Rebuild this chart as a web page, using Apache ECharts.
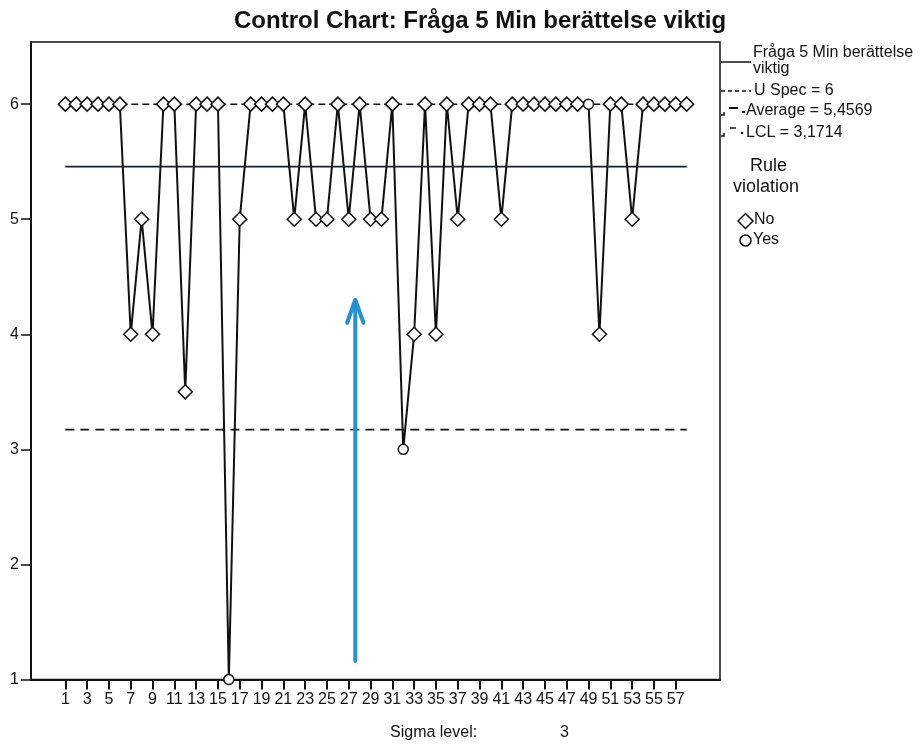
<!DOCTYPE html>
<html>
<head>
<meta charset="utf-8">
<title>Control Chart</title>
<script src="https://cdn.jsdelivr.net/npm/echarts@6/dist/echarts.min.js"></script>
<style>
  html, body { margin: 0; padding: 0; background: #fff; }
  #main { width: 920px; height: 746px; }
</style>
</head>
<body>
<div id="main"></div>
<script>
// sample number (x) and the answer value per sample
var samples = [1, 2, 3, 4, 5, 6, 7, 8, 9, 10, 11, 12, 13, 14, 15, 16, 17, 18, 19, 20,
  21, 22, 23, 24, 25, 26, 27, 28, 29, 30, 31, 32, 33, 34, 35, 36, 37, 38, 39, 40,
  41, 42, 43, 44, 45, 46, 47, 48, 49, 50, 51, 52, 53, 54, 55, 56, 57, 58];
var values = [6, 6, 6, 6, 6, 6, 4, 5, 4, 6, 6, 3.5, 6, 6, 6, 1, 5, 6, 6, 6,
  6, 5, 6, 5, 5, 6, 5, 6, 5, 5, 6, 3, 4, 6, 4, 6, 5, 6, 6, 6,
  5, 6, 6, 6, 6, 6, 6, 6, 6, 4, 6, 6, 5, 6, 6, 6, 6, 6];
// samples flagged as rule violation (drawn as circles)
var violations = [16, 32, 49];

var uSpec = 6;
var average = 5.4569;
var lcl = 3.1714;

var xTicks = [1, 3, 5, 7, 9, 11, 13, 15, 17, 19, 21, 23, 25, 27, 29, 31, 33, 35, 37, 39,
  41, 43, 45, 47, 49, 51, 53, 55, 57];
var yTicks = [1, 2, 3, 4, 5, 6];

// hand drawn blue arrow on the scan (data coords)
var arrowShaft = [[27.6, 1.16], [27.6, 4.28]];
var arrowHead = [[26.85, 4.1], [27.6, 4.3], [28.35, 4.1]];

var FONT = '"Liberation Sans", Arial, sans-serif';
var INK = '#111';

var limitLine = function (v) {
    return [[samples[0], v], [samples[samples.length - 1], v]];
};

var chart = echarts.init(document.getElementById('main'));

var option = {
    backgroundColor: '#fff',
    animation: false,
    textStyle: { fontFamily: FONT, color: INK },
    title: {
        text: 'Control Chart: Fråga 5 Min berättelse viktig',
        left: 229,
        top: 4,
        textStyle: { fontFamily: FONT, fontSize: 24, fontWeight: 'bold', color: INK }
    },
    grid: {
        left: 31,
        right: 200,
        top: 42,
        bottom: 66.5,
        show: true,
        borderColor: INK,
        borderWidth: 1.5,
        backgroundColor: 'transparent'
    },
    xAxis: {
        type: 'value',
        min: -2.15,
        max: 61.06,
        axisLine: { show: true, onZero: false, lineStyle: { color: INK, width: 2 } },
        axisTick: { show: true, length: 10, customValues: xTicks, lineStyle: { color: INK, width: 2 } },
        axisLabel: { customValues: xTicks, margin: 12, fontSize: 16, color: INK, fontFamily: FONT },
        splitLine: { show: false }
    },
    yAxis: {
        type: 'value',
        min: 1,
        max: 6.54,
        axisLine: { show: true, onZero: false, lineStyle: { color: INK, width: 2 } },
        axisTick: { show: true, length: 10, customValues: yTicks, lineStyle: { color: INK, width: 1.5 } },
        axisLabel: { customValues: yTicks, margin: 12, fontSize: 16, color: INK, fontFamily: FONT },
        splitLine: { show: false }
    },
    series: [
        {
            name: 'U Spec = 6',
            type: 'line',
            data: limitLine(uSpec),
            symbol: 'none',
            silent: true,
            z: 1,
            lineStyle: { color: INK, width: 1.5, type: [7, 4] }
        },
        {
            name: 'Average = 5,4569',
            type: 'line',
            data: limitLine(average),
            symbol: 'none',
            silent: true,
            z: 1,
            lineStyle: { color: '#1a1f2a', width: 1.8 }
        },
        {
            name: 'LCL = 3,1714',
            type: 'line',
            data: limitLine(lcl),
            symbol: 'none',
            silent: true,
            z: 1,
            lineStyle: { color: INK, width: 1.8, type: [9, 6] }
        },
        {
            name: 'Fråga 5 Min berättelse viktig',
            type: 'line',
            data: samples.map(function (s, i) { return [s, values[i]]; }),
            symbol: function (val) {
                return violations.indexOf(val[0]) >= 0 ? 'circle' : 'diamond';
            },
            symbolSize: function (val) {
                return violations.indexOf(val[0]) >= 0 ? 10 : 14;
            },
            showAllSymbol: true,
            z: 3,
            lineStyle: { color: INK, width: 2 },
            itemStyle: { color: '#fff', borderColor: INK, borderWidth: 1.5 }
        },
        {
            type: 'line',
            data: arrowShaft,
            symbol: 'none',
            silent: true,
            z: 4,
            lineStyle: { color: '#2590d2', width: 4, cap: 'round' }
        },
        {
            type: 'line',
            data: arrowHead,
            symbol: 'none',
            silent: true,
            z: 4,
            lineStyle: { color: '#2590d2', width: 4, cap: 'round', join: 'round' }
        }
    ],
    graphic: [
        // legend: lines
        { type: 'line', shape: { x1: 721, y1: 62, x2: 751, y2: 62 }, style: { stroke: INK, lineWidth: 1.5 } },
        { type: 'text', left: 753, top: 45, style: { text: 'Fråga 5 Min berättelse\nviktig', font: '16px ' + FONT, fill: INK, lineHeight: 16 } },
        { type: 'line', shape: { x1: 721, y1: 91, x2: 751, y2: 91 }, style: { stroke: INK, lineWidth: 1.5, lineDash: [4, 3] } },
        { type: 'text', left: 754, top: 83, style: { text: 'U Spec = 6', font: '16px ' + FONT, fill: INK } },
        { type: 'polyline', shape: { points: [[721, 115], [724, 115], [724, 112]] }, style: { stroke: INK, lineWidth: 1.5, fill: null } },
        { type: 'line', shape: { x1: 729, y1: 108, x2: 738, y2: 108 }, style: { stroke: INK, lineWidth: 2 } },
        { type: 'line', shape: { x1: 742, y1: 112, x2: 745, y2: 112 }, style: { stroke: INK, lineWidth: 2 } },
        { type: 'text', left: 746, top: 103, style: { text: 'Average = 5,4569', font: '16px ' + FONT, fill: INK } },
        { type: 'polyline', shape: { points: [[721, 136], [724, 136], [724, 133]] }, style: { stroke: INK, lineWidth: 1.5, fill: null } },
        { type: 'line', shape: { x1: 730, y1: 128, x2: 736, y2: 128 }, style: { stroke: INK, lineWidth: 1.5 } },
        { type: 'circle', shape: { cx: 742, cy: 133, r: 1.3 }, style: { fill: INK } },
        { type: 'text', left: 746, top: 125, style: { text: 'LCL = 3,1714', font: '16px ' + FONT, fill: INK } },
        // legend: rule violation
        { type: 'text', left: 750, top: 157, style: { text: 'Rule', font: '18px ' + FONT, fill: INK } },
        { type: 'text', left: 733, top: 178, style: { text: 'violation', font: '18px ' + FONT, fill: INK } },
        { type: 'polygon', shape: { points: [[745.5, 213.5], [753, 221], [745.5, 228.5], [738, 221]] }, style: { fill: '#fff', stroke: INK, lineWidth: 1.5 } },
        { type: 'text', left: 754, top: 212, style: { text: 'No', font: '16px ' + FONT, fill: INK } },
        { type: 'circle', shape: { cx: 745.5, cy: 240.5, r: 5.5 }, style: { fill: '#fff', stroke: INK, lineWidth: 1.5 } },
        { type: 'text', left: 753, top: 232, style: { text: 'Yes', font: '16px ' + FONT, fill: INK } },
        // footer
        { type: 'text', left: 390, top: 725, style: { text: 'Sigma level:', font: '16px ' + FONT, fill: INK } },
        { type: 'text', left: 560, top: 725, style: { text: '3', font: '16px ' + FONT, fill: INK } }
    ]
};

chart.setOption(option);
</script>
</body>
</html>
